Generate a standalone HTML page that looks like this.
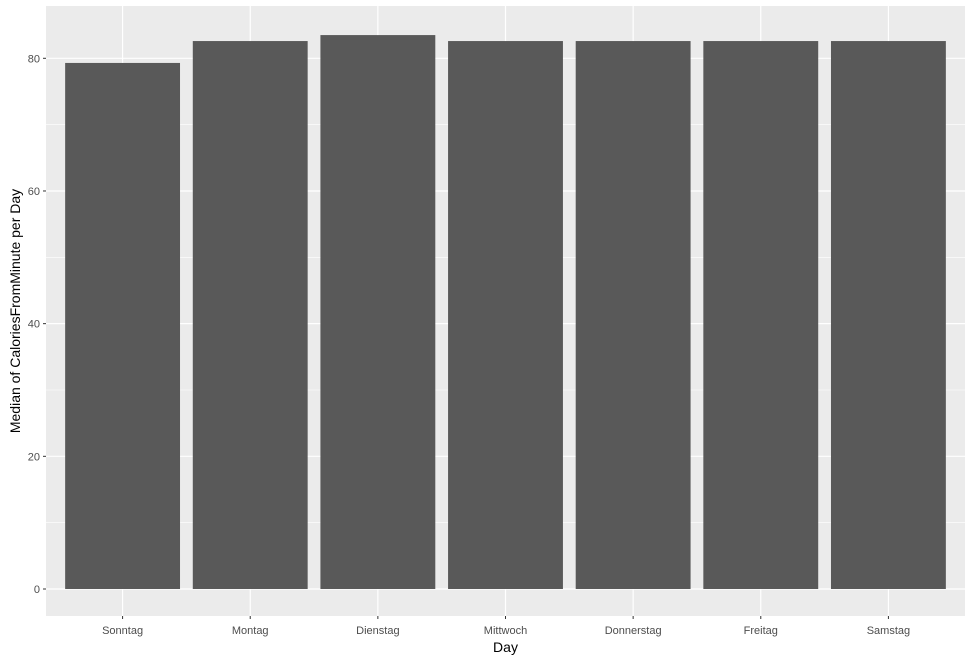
<!DOCTYPE html>
<html><head><meta charset="utf-8"><style>body{margin:0;background:#fff}svg{display:block;font-family:"Liberation Sans",Arial,sans-serif}</style></head>
<body>
<svg id="chart" width="972" height="662"></svg>
<script>
const categories=["Sonntag","Montag","Dienstag","Mittwoch","Donnerstag","Freitag","Samstag"];
const values=[79.3,82.6,83.5,82.6,82.6,82.6,82.6];
const yTicks=[0,20,40,60,80];
const svg=document.getElementById('chart');
const NS='http://www.w3.org/2000/svg';
const L=46,R=965,T=6,B=616;
const y0=589,yScale=(589-58.3)/80;
const y=v=>y0-v*yScale;
const step=(R-L)/(categories.length-1+1.2);
const x=i=>L+step*(0.6+i);
function mk(t,a){const e=document.createElementNS(NS,t);for(const k in a)e.setAttribute(k,a[k]);svg.appendChild(e);return e;}
const bg=mk('rect',{x:L,y:T,width:R-L,height:B-T,fill:'#ebebeb'});


for(let i=0;i<yTicks.length-1;i++){const m=(yTicks[i]+yTicks[i+1])/2;const g=mk('line',{x1:L,x2:R,y1:y(m),y2:y(m),stroke:'#fff','stroke-width':0.6});

}
{const m=yTicks[yTicks.length-1]+10;if(y(m)>T){const g=mk('line',{x1:L,x2:R,y1:y(m),y2:y(m),stroke:'#fff','stroke-width':0.6});

}}
yTicks.forEach(v=>{const g=mk('line',{x1:L,x2:R,y1:y(v),y2:y(v),stroke:'#fff','stroke-width':1.2});


const tk=mk('line',{x1:L-3,x2:L,y1:y(v),y2:y(v),stroke:'#333','stroke-width':1});


const t=mk('text',{x:L-6,y:y(v)+4,'text-anchor':'end','font-size':11,fill:'#4d4d4d'});t.textContent=v;

});
categories.forEach((c,i)=>{const g=mk('line',{x1:x(i),x2:x(i),y1:T,y2:B,stroke:'#fff','stroke-width':1.2});

});
categories.forEach((c,i)=>{const w=step*0.9;
const b=mk('rect',{x:x(i)-w/2,y:y(values[i]),width:w,height:y0-y(values[i]),fill:'#595959'});


const tk=mk('line',{x1:x(i),x2:x(i),y1:B,y2:B+3,stroke:'#333','stroke-width':1});


const t=mk('text',{x:x(i),y:B+18,'text-anchor':'middle','font-size':11,fill:'#4d4d4d'});t.textContent=c;

});
const xt=mk('text',{x:(L+R)/2,y:652,'text-anchor':'middle','font-size':14,fill:'#000'});xt.textContent='Day';


const yt=mk('text',{x:0,y:0,'text-anchor':'middle','font-size':14,fill:'#000',transform:`translate(20,${(T+B)/2}) rotate(-90)`});yt.textContent='Median of CaloriesFromMinute per Day';


</script>
</body></html>
